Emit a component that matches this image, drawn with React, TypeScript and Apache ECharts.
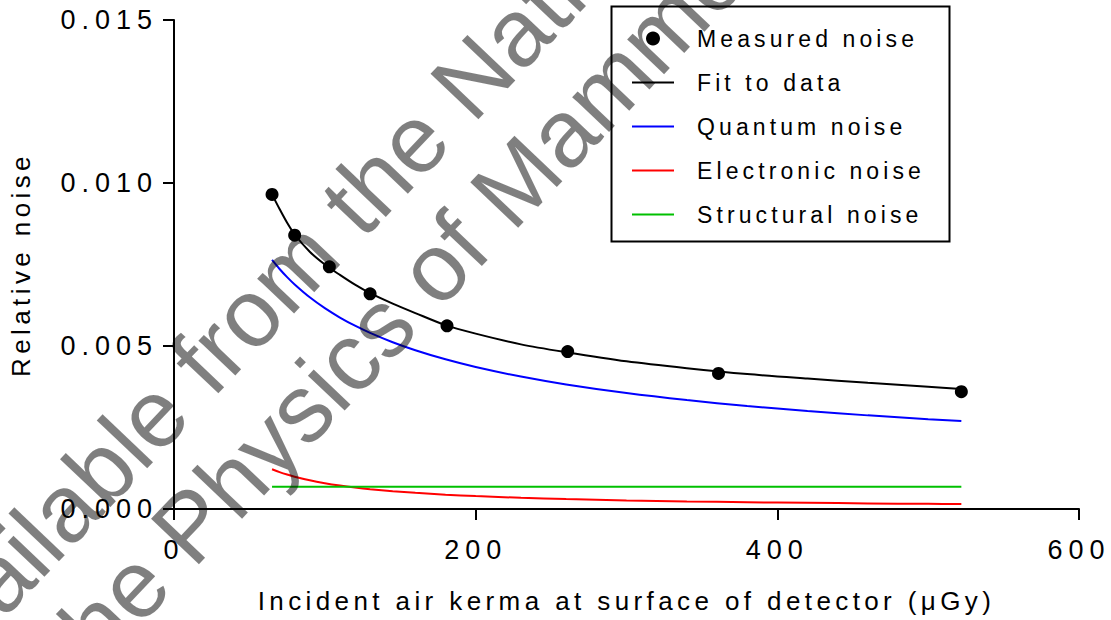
import React, { useEffect, useRef } from "react";
import * as echarts from "echarts";

// Measured points
const measuredX = [65, 80, 103, 130, 181, 261, 361, 522];
const measuredY = [0.00965, 0.0084, 0.00743, 0.0066, 0.00562, 0.00483, 0.00416, 0.0036];

// Curves sampled along x
const curveX = [65, 70, 75, 80, 90, 100, 110, 120, 130, 145, 160, 180, 200, 230, 260, 300, 340, 380, 420, 460, 500, 522];
const fitY = [0.00965, 0.0092, 0.00878, 0.00842, 0.00789, 0.0075, 0.00718, 0.00688, 0.00662, 0.0063, 0.00601, 0.00564, 0.00538, 0.00505, 0.00481, 0.00453, 0.00432, 0.00414, 0.004, 0.00387, 0.00375, 0.00368];
const quantumY = [0.00764, 0.007363, 0.007113, 0.006887, 0.006493, 0.00616, 0.005873, 0.005623, 0.005403, 0.005116, 0.00487, 0.004591, 0.004356, 0.004062, 0.00382, 0.003556, 0.003341, 0.00316, 0.003006, 0.002872, 0.002755, 0.002696];
const electronicY = [0.001218, 0.001131, 0.001056, 0.00099, 0.00088, 0.000792, 0.00072, 0.00066, 0.000609, 0.000546, 0.000495, 0.00044, 0.000396, 0.000344, 0.000305, 0.000264, 0.000233, 0.000208, 0.000189, 0.000172, 0.000158, 0.000152];
const structuralX = [65, 522];
const structuralY = [0.00068, 0.00068];

const seriesNames = ["Measured noise", "Fit to data", "Quantum noise", "Electronic noise", "Structural noise"];
const xTicks = { min: 0, max: 600, interval: 200 };
const yTicks = { min: 0, max: 0.015, interval: 0.005 };
const xTitle = "Incident air kerma at surface of detector (\u03bcGy)";
const yTitle = "Relative noise";
const watermark1 = "Available from the National";
const watermark2 = "the Physics of Mammography";

const pairs = (xs: number[], ys: number[]) => xs.map((x, i) => [x, ys[i]]);

export default function App() {
  const ref = useRef<HTMLDivElement>(null);
  useEffect(() => {
    document.body.style.margin = "0";
    const chart = echarts.init(ref.current!, undefined, { renderer: "svg" });
    const font = "Liberation Sans";
    const rot = (46.5 * Math.PI) / 180;
    const lineIcon = "path://M0,0H42V2H0Z";
    chart.setOption({
      animation: false,
      backgroundColor: "#ffffff",
      grid: { left: 173, right: 32, top: 20, bottom: 111, containLabel: false },
      xAxis: {
        type: "value",
        ...xTicks,
        name: xTitle,
        nameLocation: "middle",
        nameGap: 79,
        nameTextStyle: { fontSize: 26, color: "#000", fontFamily: font, lineHeight: 26 },
        axisLine: { show: true, lineStyle: { color: "#000", width: 2 } },
        axisTick: { show: true, length: 11, lineStyle: { color: "#000", width: 2 } },
        splitLine: { show: false },
        axisLabel: { fontSize: 27, color: "#000", fontFamily: font, margin: 27, lineHeight: 27 },
      },
      yAxis: {
        type: "value",
        ...yTicks,
        name: yTitle,
        nameLocation: "middle",
        nameGap: 140,
        nameTextStyle: { fontSize: 26, color: "#000", fontFamily: font, lineHeight: 26 },
        axisLine: { show: true, lineStyle: { color: "#000", width: 2 } },
        axisTick: { show: true, length: 11, lineStyle: { color: "#000", width: 2 } },
        splitLine: { show: false },
        axisLabel: {
          fontSize: 27,
          color: "#000",
          fontFamily: font,
          margin: 16,
          padding: [6, 0, 0, 0],
          formatter: (v: number) => v.toFixed(3),
        },
      },
      legend: {
        orient: "vertical",
        left: 632,
        top: 27,
        padding: 0,
        itemWidth: 42,
        itemHeight: 14,
        itemGap: 21,
        symbolKeepAspect: true,
        data: [
          { name: seriesNames[0], icon: "circle" },
          { name: seriesNames[1], icon: lineIcon },
          { name: seriesNames[2], icon: lineIcon },
          { name: seriesNames[3], icon: lineIcon },
          { name: seriesNames[4], icon: lineIcon },
        ],
        textStyle: { fontSize: 23, color: "#000", fontFamily: font, padding: [0, 0, 0, 18] },
      },
      graphic: [
        {
          type: "rect",
          z: 1,
          shape: { x: 611.5, y: 6.5, width: 338, height: 235 },
          style: { fill: "#fff", stroke: "#000", lineWidth: 2 },
        },
        {
          type: "text",
          z: 100,
          x: -97,
          y: 677,
          rotation: rot,
          style: { text: watermark1, font: "96px Arial", fill: "rgba(0,0,0,0.5)", verticalAlign: "middle", align: "left" },
        },
        {
          type: "text",
          z: 100,
          x: 59,
          y: 663,
          rotation: rot,
          style: { text: watermark2, font: "96px Arial", fill: "rgba(0,0,0,0.5)", verticalAlign: "middle", align: "left" },
        },
      ],
      series: [
        {
          name: seriesNames[1],
          type: "line",
          data: pairs(curveX, fitY),
          symbol: "none",
          smooth: 0.3,
          lineStyle: { color: "#000", width: 2 },
          itemStyle: { color: "#000" },
        },
        {
          name: seriesNames[2],
          type: "line",
          data: pairs(curveX, quantumY),
          symbol: "none",
          smooth: 0.3,
          lineStyle: { color: "#0000ff", width: 2 },
          itemStyle: { color: "#0000ff" },
        },
        {
          name: seriesNames[3],
          type: "line",
          data: pairs(curveX, electronicY),
          symbol: "none",
          smooth: 0.3,
          lineStyle: { color: "#ff0000", width: 2 },
          itemStyle: { color: "#ff0000" },
        },
        {
          name: seriesNames[4],
          type: "line",
          data: pairs(structuralX, structuralY),
          symbol: "none",
          lineStyle: { color: "#00c000", width: 2 },
          itemStyle: { color: "#00c000" },
        },
        {
          name: seriesNames[0],
          type: "scatter",
          data: pairs(measuredX, measuredY),
          symbol: "circle",
          symbolSize: 13,
          z: 5,
          itemStyle: { color: "#000", opacity: 1 },
        },
      ],
    });
    return () => chart.dispose();
  }, []);
  return (
    <>
      <style>{`
        .chartbox svg text[style*="27px"] { letter-spacing: 6px; }
        .chartbox svg text[style*="26px"] { letter-spacing: 4.4px; }
        .chartbox svg text[style*="23px"] { letter-spacing: 4.1px; }
      `}</style>
      <div className="chartbox" ref={ref} style={{ width: 1111, height: 620 }} />
    </>
  );
}
